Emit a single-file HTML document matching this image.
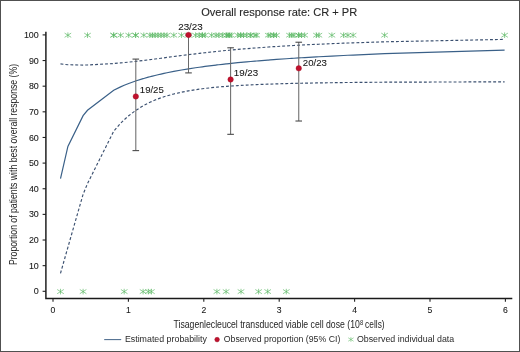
<!DOCTYPE html>
<html><head><meta charset="utf-8"><style>
html,body{margin:0;padding:0;background:#fff;overflow:hidden;width:520px;height:352px;}
#c{position:relative;width:520px;height:352px;box-sizing:border-box;border:1px solid #505050;background:#fff;overflow:hidden;}
svg{position:absolute;left:-1px;top:-1px;will-change:transform;}
text{font-family:"Liberation Sans",sans-serif;fill:#1e1e1e;}
.b text{fill:#151515;stroke:#151515;stroke-width:0.08px;}
.m{stroke:#222;stroke-width:0.12px;}
.lg text{fill:#2a2a2a;}
</style></head><body><div id="c">
<svg width="520" height="352" viewBox="0 0 520 352">
<defs><g id="a" fill="none" stroke="#5cb864" stroke-width="0.68"><line x1="0" y1="-2.8" x2="0" y2="2.8"/><line x1="-3.3" y1="-2.1" x2="3.3" y2="2.1"/><line x1="-3.3" y1="2.1" x2="3.3" y2="-2.1"/></g></defs>
<text class="m" x="201.2" y="16.3" font-size="11" textLength="156" lengthAdjust="spacingAndGlyphs" style="fill:#2a2a2a">Overall response rate: CR + PR</text>
<g><use href="#a" x="67.9" y="35.2"/><use href="#a" x="87.5" y="35.2"/><use href="#a" x="113.7" y="35.2"/><use href="#a" x="113.7" y="35.2"/><use href="#a" x="120.6" y="35.2"/><use href="#a" x="128.7" y="35.2"/><use href="#a" x="135.6" y="35.2"/><use href="#a" x="135.6" y="35.2"/><use href="#a" x="143.8" y="35.2"/><use href="#a" x="150.0" y="35.2"/><use href="#a" x="152.5" y="35.2"/><use href="#a" x="155.0" y="35.2"/><use href="#a" x="158.0" y="35.2"/><use href="#a" x="161.0" y="35.2"/><use href="#a" x="164.0" y="35.2"/><use href="#a" x="167.0" y="35.2"/><use href="#a" x="173.8" y="35.2"/><use href="#a" x="181.5" y="35.2"/><use href="#a" x="188.5" y="35.2"/><use href="#a" x="195.5" y="35.2"/><use href="#a" x="199.2" y="35.2"/><use href="#a" x="202.4" y="35.2"/><use href="#a" x="202.4" y="35.2"/><use href="#a" x="205.0" y="35.2"/><use href="#a" x="211.6" y="35.2"/><use href="#a" x="216.0" y="35.2"/><use href="#a" x="218.8" y="35.2"/><use href="#a" x="222.5" y="35.2"/><use href="#a" x="226.8" y="35.2"/><use href="#a" x="226.8" y="35.2"/><use href="#a" x="229.1" y="35.2"/><use href="#a" x="229.1" y="35.2"/><use href="#a" x="231.2" y="35.2"/><use href="#a" x="237.8" y="35.2"/><use href="#a" x="240.7" y="35.2"/><use href="#a" x="240.7" y="35.2"/><use href="#a" x="243.5" y="35.2"/><use href="#a" x="246.6" y="35.2"/><use href="#a" x="250.7" y="35.2"/><use href="#a" x="250.7" y="35.2"/><use href="#a" x="255.0" y="35.2"/><use href="#a" x="256.7" y="35.2"/><use href="#a" x="268.3" y="35.2"/><use href="#a" x="270.2" y="35.2"/><use href="#a" x="273.7" y="35.2"/><use href="#a" x="273.7" y="35.2"/><use href="#a" x="276.5" y="35.2"/><use href="#a" x="289.5" y="35.2"/><use href="#a" x="291.7" y="35.2"/><use href="#a" x="293.9" y="35.2"/><use href="#a" x="298.7" y="35.2"/><use href="#a" x="298.7" y="35.2"/><use href="#a" x="301.5" y="35.2"/><use href="#a" x="304.7" y="35.2"/><use href="#a" x="316.5" y="35.2"/><use href="#a" x="318.9" y="35.2"/><use href="#a" x="331.9" y="35.2"/><use href="#a" x="343.5" y="35.2"/><use href="#a" x="347.9" y="35.2"/><use href="#a" x="353.1" y="35.2"/><use href="#a" x="384.6" y="35.2"/><use href="#a" x="504.6" y="35.2"/><use href="#a" x="60.5" y="291.6"/><use href="#a" x="83.1" y="291.6"/><use href="#a" x="124.2" y="291.6"/><use href="#a" x="143.1" y="291.6"/><use href="#a" x="148.3" y="291.6"/><use href="#a" x="151.4" y="291.6"/><use href="#a" x="216.9" y="291.6"/><use href="#a" x="226.1" y="291.6"/><use href="#a" x="241.0" y="291.6"/><use href="#a" x="258.6" y="291.6"/><use href="#a" x="267.7" y="291.6"/><use href="#a" x="286.3" y="291.6"/></g>
<path d="M60.50,63.89 L67.90,64.75 L83.10,65.05 L87.50,64.97 L113.70,63.53 L120.60,62.93 L124.20,62.59 L128.70,62.13 L135.60,61.38 L143.10,60.49 L143.80,60.41 L148.30,59.85 L150.00,59.63 L151.40,59.46 L152.50,59.32 L155.00,58.99 L158.00,58.60 L161.00,58.21 L164.00,57.82 L167.00,57.42 L173.80,56.53 L181.50,55.54 L188.50,54.66 L195.50,53.81 L199.20,53.37 L202.40,53.00 L205.00,52.70 L211.60,51.98 L216.00,51.51 L216.90,51.42 L218.75,51.23 L222.50,50.85 L226.10,50.50 L226.80,50.43 L229.10,50.21 L231.20,50.01 L237.80,49.42 L240.70,49.16 L241.00,49.14 L243.50,48.93 L246.60,48.67 L250.70,48.34 L255.00,48.01 L256.70,47.88 L258.60,47.74 L267.70,47.09 L268.30,47.04 L270.20,46.92 L273.70,46.68 L276.50,46.50 L286.30,45.90 L289.50,45.71 L291.70,45.59 L293.90,45.47 L298.70,45.20 L301.50,45.06 L304.70,44.89 L316.50,44.32 L318.90,44.20 L331.90,43.64 L343.50,43.18 L347.90,43.01 L353.10,42.83 L384.60,41.82 L504.60,39.38" fill="none" stroke="#3b5070" stroke-width="1.15" stroke-dasharray="2.9 2.05"/>
<path d="M60.50,273.30 L67.90,247.30 L83.10,194.30 L87.50,183.60 L113.70,131.22 L120.60,123.30 L124.20,119.73 L128.70,115.74 L135.60,110.50 L143.10,105.81 L143.80,105.42 L148.30,103.07 L150.00,102.26 L151.40,101.61 L152.50,101.12 L155.00,100.06 L158.00,98.88 L161.00,97.78 L164.00,96.77 L167.00,95.83 L173.80,93.96 L181.50,92.19 L188.50,90.84 L195.50,89.71 L199.20,89.18 L202.40,88.75 L205.00,88.43 L211.60,87.69 L216.00,87.25 L216.90,87.17 L218.75,87.00 L222.50,86.67 L226.10,86.38 L226.80,86.33 L229.10,86.16 L231.20,86.01 L237.80,85.58 L240.70,85.40 L241.00,85.39 L243.50,85.24 L246.60,85.08 L250.70,84.87 L255.00,84.67 L256.70,84.60 L258.60,84.51 L267.70,84.16 L268.30,84.14 L270.20,84.07 L273.70,83.95 L276.50,83.86 L286.30,83.58 L289.50,83.50 L291.70,83.44 L293.90,83.39 L298.70,83.28 L301.50,83.22 L304.70,83.15 L316.50,82.93 L318.90,82.89 L331.90,82.70 L343.50,82.55 L347.90,82.51 L353.10,82.45 L384.60,82.19 L504.60,81.83" fill="none" stroke="#3b5070" stroke-width="1.15" stroke-dasharray="2.9 2.05"/>
<path d="M60.50,178.54 L67.90,146.45 L83.10,115.68 L87.50,110.25 L113.70,90.21 L120.60,86.86 L124.20,85.30 L128.70,83.51 L135.60,81.04 L143.10,78.68 L143.80,78.47 L148.30,77.20 L150.00,76.75 L151.40,76.38 L152.50,76.10 L155.00,75.47 L158.00,74.75 L161.00,74.06 L164.00,73.40 L167.00,72.76 L173.80,71.41 L181.50,70.02 L188.50,68.86 L195.50,67.78 L199.20,67.25 L202.40,66.80 L205.00,66.45 L211.60,65.60 L216.00,65.06 L216.90,64.95 L218.75,64.74 L222.50,64.31 L226.10,63.91 L226.80,63.83 L229.10,63.58 L231.20,63.36 L237.80,62.70 L240.70,62.41 L241.00,62.39 L243.50,62.15 L246.60,61.86 L250.70,61.49 L255.00,61.12 L256.70,60.98 L258.60,60.82 L267.70,60.09 L268.30,60.04 L270.20,59.89 L273.70,59.63 L276.50,59.43 L286.30,58.74 L289.50,58.52 L291.70,58.38 L293.90,58.23 L298.70,57.93 L301.50,57.75 L304.70,57.56 L316.50,56.88 L318.90,56.74 L331.90,56.05 L343.50,55.48 L347.90,55.27 L353.10,55.03 L384.60,53.72 L504.60,50.13" fill="none" stroke="#3a6088" stroke-width="1.2"/>
<g stroke="#6a6a6a" stroke-width="1.05"><line x1="135.8" y1="58.90" x2="135.8" y2="150.61"/><line x1="188.5" y1="34.90" x2="188.5" y2="72.90"/><line x1="230.6" y1="47.59" x2="230.6" y2="134.33"/><line x1="298.75" y1="42.03" x2="298.75" y2="121.02"/></g><g stroke="#4a4a4a" stroke-width="1.1"><line x1="132.5" y1="59.10" x2="139.10000000000002" y2="59.10"/><line x1="132.5" y1="150.61" x2="139.10000000000002" y2="150.61"/><line x1="185.2" y1="35.10" x2="191.8" y2="35.10"/><line x1="185.2" y1="72.90" x2="191.8" y2="72.90"/><line x1="227.29999999999998" y1="47.79" x2="233.9" y2="47.79"/><line x1="227.29999999999998" y1="134.33" x2="233.9" y2="134.33"/><line x1="295.45" y1="42.23" x2="302.05" y2="42.23"/><line x1="295.45" y1="121.02" x2="302.05" y2="121.02"/></g>
<g fill="#c0112d" stroke="#a30e26" stroke-width="0.4"><circle cx="135.8" cy="96.44" r="2.75"/><circle cx="188.5" cy="34.90" r="2.75"/><circle cx="230.6" cy="79.49" r="2.75"/><circle cx="298.75" cy="68.34" r="2.75"/></g>
<g class="b" font-size="9.5"><text x="139.8" y="92.7" textLength="24" lengthAdjust="spacingAndGlyphs">19/25</text><text x="178.2" y="29.8" textLength="24.6" lengthAdjust="spacingAndGlyphs">23/23</text><text x="233.8" y="75.8" textLength="24.4" lengthAdjust="spacingAndGlyphs">19/23</text><text x="302.8" y="65.6" textLength="24.1" lengthAdjust="spacingAndGlyphs">20/23</text></g>
<g stroke="#1a1a1a" stroke-width="1.45" fill="none"><path d="M45.9,31.7 V298.4 H512.3"/></g>
<g stroke="#222" stroke-width="1.1"><line x1="42.6" y1="291.30" x2="46" y2="291.30"/><line x1="42.6" y1="265.66" x2="46" y2="265.66"/><line x1="42.6" y1="240.02" x2="46" y2="240.02"/><line x1="42.6" y1="214.38" x2="46" y2="214.38"/><line x1="42.6" y1="188.74" x2="46" y2="188.74"/><line x1="42.6" y1="163.10" x2="46" y2="163.10"/><line x1="42.6" y1="137.46" x2="46" y2="137.46"/><line x1="42.6" y1="111.82" x2="46" y2="111.82"/><line x1="42.6" y1="86.18" x2="46" y2="86.18"/><line x1="42.6" y1="60.54" x2="46" y2="60.54"/><line x1="42.6" y1="34.90" x2="46" y2="34.90"/><line x1="53.00" y1="298.5" x2="53.00" y2="301.8"/><line x1="128.40" y1="298.5" x2="128.40" y2="301.8"/><line x1="203.80" y1="298.5" x2="203.80" y2="301.8"/><line x1="279.20" y1="298.5" x2="279.20" y2="301.8"/><line x1="354.60" y1="298.5" x2="354.60" y2="301.8"/><line x1="430.00" y1="298.5" x2="430.00" y2="301.8"/><line x1="505.40" y1="298.5" x2="505.40" y2="301.8"/></g>
<g class="b" font-size="9.7"><text x="38.8" y="294.40" text-anchor="end" textLength="5.0" lengthAdjust="spacingAndGlyphs">0</text><text x="38.8" y="268.76" text-anchor="end" textLength="9.9" lengthAdjust="spacingAndGlyphs">10</text><text x="38.8" y="243.12" text-anchor="end" textLength="9.9" lengthAdjust="spacingAndGlyphs">20</text><text x="38.8" y="217.48" text-anchor="end" textLength="9.9" lengthAdjust="spacingAndGlyphs">30</text><text x="38.8" y="191.84" text-anchor="end" textLength="9.9" lengthAdjust="spacingAndGlyphs">40</text><text x="38.8" y="166.20" text-anchor="end" textLength="9.9" lengthAdjust="spacingAndGlyphs">50</text><text x="38.8" y="140.56" text-anchor="end" textLength="9.9" lengthAdjust="spacingAndGlyphs">60</text><text x="38.8" y="114.92" text-anchor="end" textLength="9.9" lengthAdjust="spacingAndGlyphs">70</text><text x="38.8" y="89.28" text-anchor="end" textLength="9.9" lengthAdjust="spacingAndGlyphs">80</text><text x="38.8" y="63.64" text-anchor="end" textLength="9.9" lengthAdjust="spacingAndGlyphs">90</text><text x="38.8" y="38.00" text-anchor="end" textLength="14.9" lengthAdjust="spacingAndGlyphs">100</text><text x="53.00" y="313.2" text-anchor="middle" textLength="4.8" lengthAdjust="spacingAndGlyphs">0</text><text x="128.40" y="313.2" text-anchor="middle" textLength="4.8" lengthAdjust="spacingAndGlyphs">1</text><text x="203.80" y="313.2" text-anchor="middle" textLength="4.8" lengthAdjust="spacingAndGlyphs">2</text><text x="279.20" y="313.2" text-anchor="middle" textLength="4.8" lengthAdjust="spacingAndGlyphs">3</text><text x="354.60" y="313.2" text-anchor="middle" textLength="4.8" lengthAdjust="spacingAndGlyphs">4</text><text x="430.00" y="313.2" text-anchor="middle" textLength="4.8" lengthAdjust="spacingAndGlyphs">5</text><text x="505.40" y="313.2" text-anchor="middle" textLength="4.8" lengthAdjust="spacingAndGlyphs">6</text></g>
<text transform="translate(17,164.5) rotate(-90)" font-size="10.4" text-anchor="middle" textLength="201.2" lengthAdjust="spacingAndGlyphs">Proportion of patients with best overall response (%)</text>
<text x="173.5" y="328.4" font-size="10.4" textLength="186.3" lengthAdjust="spacingAndGlyphs">Tisagenlecleucel transduced viable cell dose (10</text>
<text x="359.9" y="324.5" font-size="8" textLength="3.2" lengthAdjust="spacingAndGlyphs">8</text>
<text x="365.1" y="328.4" font-size="10.4" textLength="19.5" lengthAdjust="spacingAndGlyphs">cells)</text>
<line x1="104.2" y1="339.6" x2="121.2" y2="339.6" stroke="#4a6a8c" stroke-width="1.05"/>
<circle cx="217.1" cy="339.6" r="2.3" fill="#c0112d" stroke="#9c0d24" stroke-width="0.5"/>
<use href="#a" transform="translate(350.9,339.5) scale(0.82)"/>
<g class="lg" font-size="8.4">
<text x="124.9" y="342.3" textLength="82" lengthAdjust="spacingAndGlyphs">Estimated probability</text>
<text x="223.8" y="342.3" textLength="116.5" lengthAdjust="spacingAndGlyphs">Observed proportion (95% CI)</text>
<text x="356.9" y="342.3" textLength="97.3" lengthAdjust="spacingAndGlyphs">Observed individual data</text>
</g>
</svg></div></body></html>
